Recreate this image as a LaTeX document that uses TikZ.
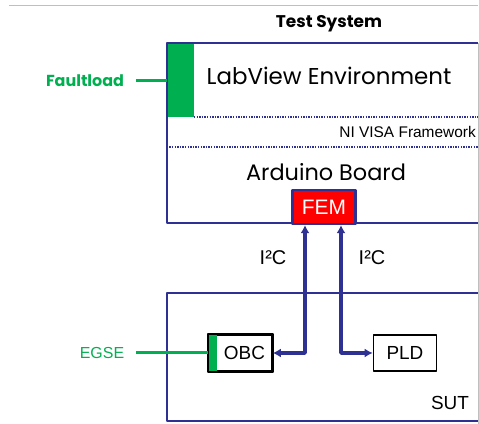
\documentclass[tikz,border=0pt]{standalone}
\usepackage{fontspec}
\setmainfont{Liberation Sans}
\newfontfamily\gothic{Poppins}
\usetikzlibrary{positioning,arrows.meta}
\definecolor{frameblue}{RGB}{46,49,146}
\definecolor{loadgreen}{RGB}{0,176,80}
\definecolor{femred}{RGB}{255,0,0}
\tikzset{
  frame/.style={draw=frameblue,line width=2.2bp},
  link/.style={draw=frameblue,line width=3.5bp,{Latex[length=8bp,width=9bp]}-{Latex[length=8bp,width=9bp]}},
  unit/.style={draw=black,line width=1.6bp,fill=white,minimum width=63bp,minimum height=36bp,inner sep=0pt,font=\fontsize{19}{22}\selectfont},
  greenlabel/.style={text=loadgreen,inner sep=0pt},
  divider/.style={draw=frameblue,line width=1.6bp,dash pattern=on 1.3bp off 1.3bp},
}
\begin{document}
\begin{tikzpicture}[line join=bevel,]
%%
\useasboundingbox (0bp,0bp) rectangle (479bp,424bp);
\draw [gray!50,line width=1bp] (9bp,418bp) -- (478bp,418bp);
\node (title) at (329bp,400bp) [inner sep=0pt] {\gothic\bfseries\fontsize{17}{20}\selectfont Test System};
%
\node (testsys) at (322.5bp,291bp) [minimum width=311bp,minimum height=180bp,inner sep=0pt] {};
\fill [loadgreen] (testsys.north west) rectangle (194bp,307bp);
\draw [divider] (194bp,307bp) -- (testsys.north east |- 0,307bp);
\draw [divider] (testsys.west |- 0,277bp) -- (testsys.east |- 0,277bp);
\draw [frame] (testsys.north east) -| (testsys.south west) -- (testsys.south east);
\node (labview) at (329bp,348bp) [inner sep=0pt] {\gothic\fontsize{23}{27}\selectfont LabView Environment};
\node (visa) at (476bp,292bp) [anchor=east,inner sep=0pt] {\fontsize{15.5}{18}\selectfont NI VISA Framework};
\node (arduino) at (326bp,252bp) [inner sep=0pt] {\gothic\fontsize{22.5}{26}\selectfont Arduino Board};
\node (fem) at (324bp,217bp) [draw=frameblue,line width=2.2bp,fill=femred,text=white,minimum width=63bp,minimum height=34bp,inner sep=0pt,font=\fontsize{21}{24}\selectfont] {FEM};
%
\node (faultload) at (85bp,343bp) [greenlabel,font=\gothic\bfseries\fontsize{16}{19}\selectfont] {Faultload};
\draw [loadgreen,line width=3bp] (136bp,343bp) -- (testsys.west |- faultload);
%
\node (sut) at (322.5bp,67bp) [minimum width=311bp,minimum height=128bp,inner sep=0pt] {};
\draw [frame] (sut.north east) -| (sut.south west) -- (sut.south east);
\node (sutlabel) at (450bp,21bp) [inner sep=0pt,font=\fontsize{19}{22}\selectfont] {SUT};
\node (obc) at (240.5bp,71bp) [unit] {\hspace{8bp}OBC};
\fill [loadgreen] ([shift={(0.8bp,-0.8bp)}]obc.north west) rectangle ([shift={(9bp,0.8bp)}]obc.south west);
\draw [black,line width=1.6bp] (obc.north west) rectangle (obc.south east);
\node (pld) at (405bp,71bp) [unit] {PLD};
%
\node (egse) at (102bp,71bp) [greenlabel,font=\fontsize{16}{19}\selectfont] {EGSE};
\draw [loadgreen,line width=3bp] (136bp,71bp) -- (obc.west);
%
\draw [link] ([xshift=-19bp]fem.south) |- (obc.east);
\draw [link] ([xshift=17bp]fem.south) |- (pld.west);
\node (i2cleft) at (273bp,166bp) [inner sep=0pt,font=\fontsize{20}{23}\selectfont] {I²C};
\node (i2cright) at (372bp,166bp) [inner sep=0pt,font=\fontsize{20}{23}\selectfont] {I²C};
%
\draw [gray!50,line width=1bp] (478bp,381bp) -- (478bp,0bp);
%
\end{tikzpicture}
\end{document}
